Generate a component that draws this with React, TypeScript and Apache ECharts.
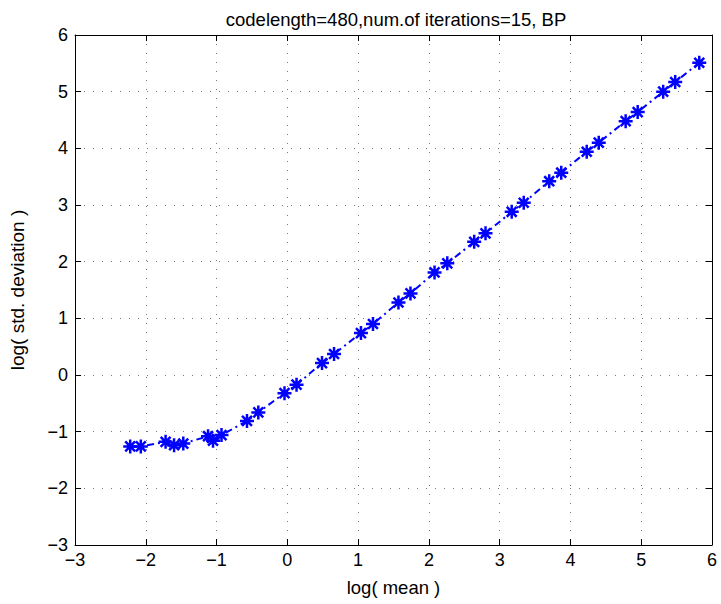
import React, { useEffect, useRef } from "react";
import * as echarts from "echarts";

const logMean = [-2.22, -2.07, -1.72, -1.6, -1.47, -1.12, -1.05, -0.93, -0.57, -0.41, -0.04, 0.13, 0.49, 0.66, 1.04, 1.21, 1.57, 1.74, 2.08, 2.26, 2.64, 2.8, 3.17, 3.34, 3.7, 3.87, 4.23, 4.4, 4.78, 4.95, 5.31, 5.48, 5.82];
const logStd = [-1.26, -1.26, -1.18, -1.24, -1.21, -1.08, -1.16, -1.06, -0.81, -0.66, -0.32, -0.17, 0.21, 0.37, 0.74, 0.9, 1.28, 1.44, 1.81, 1.97, 2.35, 2.5, 2.88, 3.04, 3.42, 3.57, 3.94, 4.1, 4.48, 4.64, 5.0, 5.17, 5.51];

const titleText = "codelength=480,num.of iterations=15, BP";
const xName = "log( mean )";
const yName = "log( std. deviation )";

const FONT = "Liberation Sans, Arial, Helvetica, sans-serif";

const fmt = (v: number) => (v < 0 ? "\u2212" + Math.abs(v) : String(v));

export default function App() {
  const ref = useRef<HTMLDivElement>(null);
  useEffect(() => {
    if (!ref.current) return;
    const chart = echarts.init(ref.current, null, { renderer: "svg" });
    const lineCol = "#000";
    const gridLine = { show: true, lineStyle: { color: "#7a7a7a", width: 1, type: [1, 8] as any } };
    const baseAxis = {
      type: "value" as const,
      interval: 1,
      axisLine: { show: true, onZero: false, lineStyle: { color: lineCol, width: 1 } },
      axisTick: { show: true, inside: true, length: 6, lineStyle: { color: lineCol } },
    };
    chart.setOption({
      animation: false,
      backgroundColor: "#fff",
      title: {
        text: titleText,
        left: 391,
        textAlign: "center",
        top: 5,
        textStyle: { fontFamily: FONT, fontSize: 18.5, fontWeight: "normal", color: "#000" },
      },
      grid: { left: 70, right: 9, top: 35, bottom: 59, containLabel: false },
      xAxis: [
        {
          ...baseAxis,
          position: "bottom",
          min: -3,
          max: 6,
          splitLine: gridLine,
          axisLabel: { show: true, margin: 6, color: "#000", fontFamily: FONT, fontSize: 18, formatter: fmt },
          name: xName,
          nameLocation: "middle",
          nameGap: 33,
          nameTextStyle: { color: "#000", fontFamily: FONT, fontSize: 18.5 },
        },
        {
          ...baseAxis,
          position: "top",
          min: -3,
          max: 6,
          splitLine: { show: false },
          axisLabel: { show: false },
        },
      ],
      yAxis: [
        {
          ...baseAxis,
          position: "left",
          min: -3,
          max: 6,
          splitLine: gridLine,
          axisLabel: { show: true, margin: 7, color: "#000", fontFamily: FONT, fontSize: 18, formatter: fmt },
          name: yName,
          nameLocation: "middle",
          nameGap: 48,
          nameTextStyle: { color: "#000", fontFamily: FONT, fontSize: 19 },
        },
        {
          ...baseAxis,
          position: "right",
          min: -3,
          max: 6,
          splitLine: { show: false },
          axisLabel: { show: false },
        },
      ],
      series: [
        {
          type: "line",
          data: logMean.map((x, i) => [x, logStd[i]]),
          symbol: "path://M0,-10L0,10M-10,0L10,0M-7.07,-7.07L7.07,7.07M-7.07,7.07L7.07,-7.07",
          symbolSize: 14,
          showSymbol: true,
          itemStyle: { color: "#0000ff", borderColor: "#0000ff", borderWidth: 2.5 },
          lineStyle: { color: "#0000ff", width: 2, type: [7, 4, 2, 4] as any },
          z: 5,
        },
      ],
    });
    return () => chart.dispose();
  }, []);
  return <div ref={ref} style={{ width: 721, height: 604, position: "absolute", left: 0, top: 0 }} />;
}
